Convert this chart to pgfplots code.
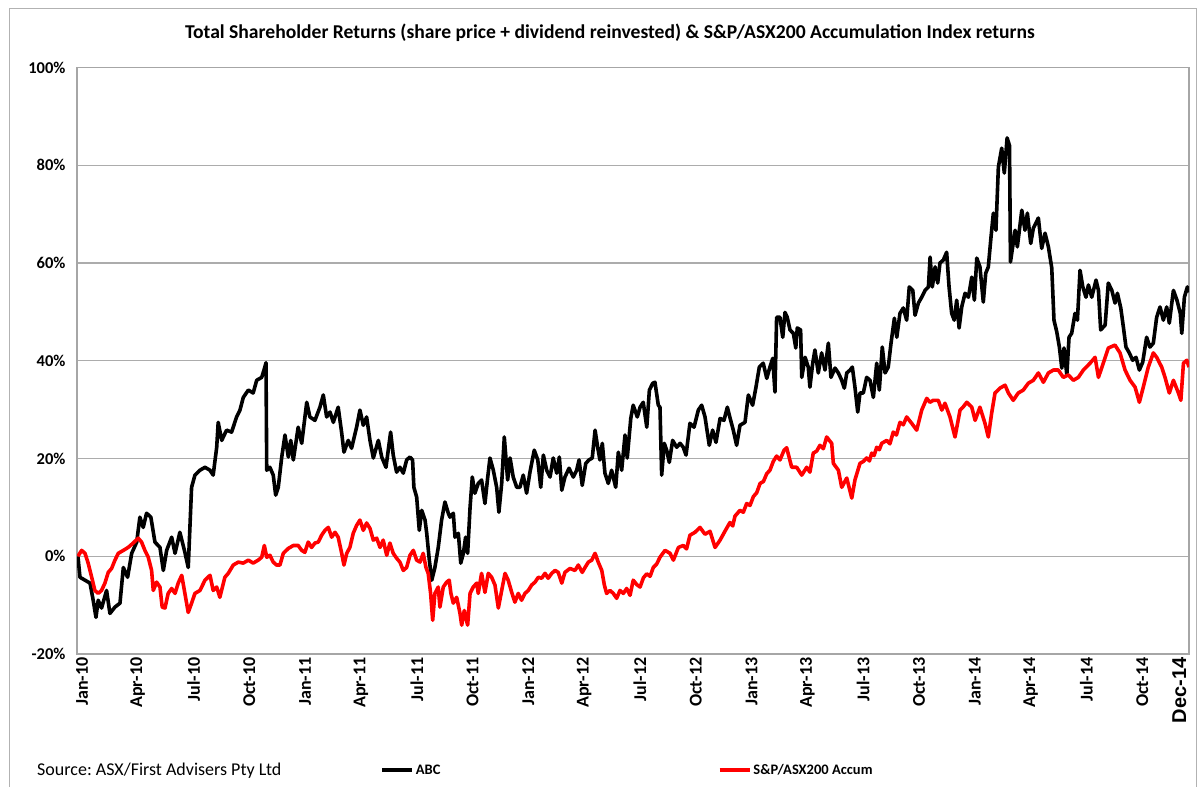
\documentclass[border=0pt]{standalone}
\usepackage{fontspec}
\setmainfont{Carlito}
\newfontfamily\arialfont{Liberation Sans}
\usepackage{pgfplots}
\pgfplotsset{compat=1.18}
\frenchspacing
\begin{document}
\begin{tikzpicture}[x=1pt,y=1pt]
\useasboundingbox (0,0) rectangle (1200,787);
\draw[gray!60, line width=1pt] (9,-2) -- (9,778) -- (1196,778) -- (1196,-2);
\node[font=\fontsize{19.6}{23}\selectfont\bfseries] at (610,754) {Total Shareholder Returns (share price + dividend reinvested) \& S\&P/ASX200 Accumulation Index returns};
\node[font=\fontsize{18}{21}\selectfont, anchor=west, inner sep=0pt] at (37,16) {Source: ASX/First Advisers Pty Ltd};
\begin{axis}[
  at={(77pt,133pt)}, anchor=south west,
  scale only axis, width=1112pt, height=586.5pt,
  xmin=-0.05, xmax=59.73, ymin=-20, ymax=100,
  xtick={0,3,6,9,12,15,18,21,24,27,30,33,36,39,42,45,48,51,54,57,59},
  xticklabels={Jan-10,Apr-10,Jul-10,Oct-10,Jan-11,Apr-11,Jul-11,Oct-11,Jan-12,Apr-12,Jul-12,Oct-12,Jan-13,Apr-13,Jul-13,Oct-13,Jan-14,Apr-14,Jul-14,Oct-14,{\arialfont\fontsize{20}{24}\selectfont\bfseries Dec-14}},
  xticklabel style={rotate=90, anchor=east, font=\fontsize{18}{21}\selectfont\bfseries, xshift=0pt, yshift=-4pt},
  ytick={-20,0,20,40,60,80,100},
  yticklabels={-20\%,0\%,20\%,40\%,60\%,80\%,100\%},
  yticklabel style={font=\fontsize{16.5}{19}\selectfont\bfseries, xshift=-8pt},
  major tick length=0pt,
  ymajorgrids, grid style={draw=gray!65, line width=1.2pt},
  axis line style={draw=gray!70, line width=1.2pt},
  legend columns=2,
  legend style={at={(axis description cs:0.2725,-0.198)}, anchor=west, draw=none, fill=none,
    font=\fontsize{14.5}{17}\selectfont\bfseries, inner sep=0pt,
    /tikz/every even column/.append style={column sep=0pt}},
  legend image code/.code={\draw[#1] (0pt,0pt) -- (30pt,0pt);},
]
\addplot[black, line width=3.6pt, line join=round] coordinates {
(0,0) (0.11,-4.3) (0.38,-4.9) (0.65,-5.5) (0.82,-9) (0.97,-12.5) (1.09,-9) (1.27,-10.6) (1.54,-7) (1.72,-11.7)
(1.99,-10.4) (2.26,-9.6) (2.44,-2.3) (2.67,-4.3) (2.89,0.6) (3.16,2.9) (3.33,8.0) (3.51,5.9) (3.69,8.8) (3.92,8)
(4.14,2.9) (4.41,1.8) (4.59,-2.9) (4.77,1.2) (5.04,3.9) (5.22,0.6) (5.48,4.9) (5.75,0.8) (5.93,-2.3) (6.11,14.1)
(6.29,16.6) (6.56,17.6) (6.83,18.2) (7.10,17.6) (7.27,16.6) (7.46,22.3) (7.54,27.4) (7.73,23.7) (7.99,25.8) (8.26,25.4)
(8.53,28.5) (8.71,29.9) (8.89,32.5) (9.16,34) (9.42,33.4) (9.61,36) (9.88,36.6) (10.05,38.7) (10.11,39.6) (10.15,17.6)
(10.32,18.2) (10.50,16.6) (10.63,12.5) (10.77,14.1) (10.95,20.1) (11.13,24.8) (11.31,20.3) (11.44,23.7) (11.58,19.7) (11.84,26.4)
(12.03,23.1) (12.30,31.5) (12.47,28.5) (12.74,27.8) (13.01,30.5) (13.19,33) (13.37,28.5) (13.55,29.5) (13.73,27.4) (13.99,30.5)
(14.18,25.2) (14.30,21.3) (14.53,23.7) (14.71,22.1) (14.98,26.4) (15.16,29.9) (15.34,26.8) (15.52,28.5) (15.70,23.7) (15.88,20.1)
(16.15,23.7) (16.33,20.3) (16.56,18.2) (16.81,25.4) (16.95,20.7) (17.13,17.2) (17.31,18.2) (17.49,17) (17.67,19.7) (17.85,20.3)
(17.99,19.7) (18.06,14.1) (18.21,12.1) (18.35,5.3) (18.48,9.4) (18.66,7.4) (18.75,4.7) (18.89,-0.8) (19.02,-4.9) (19.19,-2.3)
(19.37,1.8) (19.55,7.4) (19.73,11.1) (19.91,8.8) (20.0,8) (20.18,8.8) (20.27,3.9) (20.45,4.7) (20.58,-1.4) (20.72,0.6)
(20.84,3.9) (20.95,0.6) (21.08,10) (21.20,16.2) (21.34,12.9) (21.52,14.9) (21.70,15.6) (21.88,10.8) (22.03,16.2) (22.15,20.1)
(22.33,17.6) (22.51,14.1) (22.63,9) (22.78,14.9) (22.92,24.4) (23.10,15.6) (23.23,20.1) (23.40,16.2) (23.59,14.1) (23.76,14.1)
(23.94,16.6) (24.12,12.9) (24.30,17.2) (24.53,21.7) (24.72,19.7) (24.88,14.1) (25.02,20.7) (25.20,17.6) (25.38,16.2) (25.55,20.1)
(25.74,17) (25.88,20.3) (26.01,13.5) (26.18,16.2) (26.40,18) (26.63,16.2) (26.81,17.6) (26.94,19.7) (27.11,14.5) (27.30,19)
(27.47,19.7) (27.65,20.1) (27.80,25.8) (27.94,22.3) (28.06,19.7) (28.19,23.1) (28.33,17) (28.51,14.9) (28.69,17.6) (28.91,14.1)
(29.05,21.3) (29.23,17.6) (29.41,24.8) (29.53,20.1) (29.72,28.2) (29.85,30.9) (30.07,28.5) (30.22,30.5) (30.39,31.5) (30.58,26.4)
(30.72,34) (30.90,35.4) (31.02,35.6) (31.20,30.9) (31.29,30.5) (31.38,16.6) (31.52,23.1) (31.65,21.7) (31.79,19.2) (31.97,23.7)
(32.19,22.3) (32.37,23.1) (32.54,22.3) (32.69,20.7) (32.90,27.2) (33.12,26.4) (33.35,29.9) (33.53,30.9) (33.71,28.5) (33.94,22.7)
(34.12,25.8) (34.30,23.3) (34.52,28.2) (34.73,27.8) (34.91,30.5) (35.09,27.8) (35.23,25.8) (35.41,22.7) (35.59,26.8) (35.86,27.4)
(36.04,33) (36.27,30.9) (36.45,34.6) (36.63,38.7) (36.84,39.5) (37.03,36.4) (37.20,38.7) (37.35,40.5) (37.47,33.6) (37.56,48.9)
(37.74,48.9) (37.89,44.8) (38.01,49.9) (38.13,48.9) (38.28,46.3) (38.46,45.6) (38.59,42.6) (38.67,46.7) (38.85,46.3) (38.91,36.6)
(39.09,40.7) (39.26,38.7) (39.35,34.6) (39.50,39.5) (39.62,42.2) (39.80,37.5) (39.98,41.6) (40.16,38.1) (40.34,43.6) (40.48,36.6)
(40.70,38.5) (40.88,37.5) (41.06,36) (41.20,34.4) (41.33,37.5) (41.51,38.1) (41.63,38.7) (41.77,34.6) (41.92,29.5) (42.04,33.4)
(42.22,33.4) (42.40,36.6) (42.58,36) (42.76,32.5) (42.94,39.5) (43.08,34) (43.24,42.8) (43.39,37.5) (43.56,38.7) (43.71,43.6)
(43.89,48.7) (44.02,44.8) (44.19,49.7) (44.37,50.8) (44.55,48.3) (44.69,55.1) (44.88,54.4) (45.0,49.3) (45.18,51.8) (45.36,53)
(45.54,54.4) (45.72,55.1) (45.81,61.2) (45.93,55.1) (46.08,59.2) (46.22,55.9) (46.34,60) (46.52,60.6) (46.70,62.2) (46.83,55.1)
(46.97,49.7) (47.11,48.3) (47.24,52.4) (47.37,46.7) (47.51,51) (47.69,53.8) (47.87,53) (48.05,57.1) (48.19,52.4) (48.32,61)
(48.49,59.2) (48.67,52) (48.80,57.9) (48.94,59.2) (49.07,64.7) (49.21,70.2) (49.35,66.7) (49.48,79.6) (49.66,83.5) (49.80,78.4)
(49.95,85.6) (50.08,84) (50.13,60.2) (50.38,66.7) (50.50,63.3) (50.74,70.8) (50.91,66.7) (51.04,70.2) (51.22,64) (51.36,67.1)
(51.63,69.2) (51.81,63) (51.99,66.1) (52.17,63.3) (52.35,59) (52.47,48.3) (52.62,45.9) (52.76,42.8) (52.89,38.5) (53.01,42.6)
(53.16,37.1) (53.28,44.8) (53.42,45.6) (53.60,49.7) (53.73,48.3) (53.87,58.5) (54.02,55.1) (54.19,53) (54.32,55.5) (54.50,53)
(54.73,56.5) (54.86,54.4) (54.98,46.3) (55.22,47.3) (55.39,55.9) (55.58,54.4) (55.75,51.8) (55.88,53.8) (56.06,50.8) (56.20,46.9)
(56.34,42.8) (56.52,41.6) (56.70,40.1) (56.88,40.7) (57.06,38.1) (57.24,39.7) (57.45,44.8) (57.63,42.8) (57.81,43.6) (57.99,48.9)
(58.17,51) (58.35,48.3) (58.53,51) (58.67,47.7) (58.89,54.4) (59.08,52.4) (59.26,49.7) (59.34,45.6) (59.48,53) (59.64,55.1) (59.73,54)
};
\addlegendentry{\makebox[300pt][l]{ABC}}
\addplot[red, line width=3.6pt, line join=round] coordinates {
(0,0) (0.20,1.2) (0.38,0.6) (0.55,-1.4) (0.74,-4.3) (0.91,-7) (1.09,-7.6) (1.27,-7) (1.45,-5.5) (1.63,-3.3)
(1.81,-2.5) (1.99,-0.8) (2.17,0.6) (2.44,1.2) (2.70,1.8) (2.97,2.7) (3.24,3.7) (3.42,2.9) (3.60,1.2) (3.78,-0.2)
(3.96,-2.9) (4.05,-7) (4.23,-5.3) (4.41,-6.3) (4.53,-10.4) (4.68,-10.6) (4.85,-7.6) (5.04,-6.6) (5.22,-7.6) (5.39,-5.5)
(5.58,-3.9) (5.75,-7.6) (5.93,-11.5) (6.11,-9.6) (6.29,-7.6) (6.56,-7) (6.83,-4.9) (7.10,-3.9) (7.27,-7) (7.46,-6.3)
(7.63,-8.4) (7.90,-4.3) (8.08,-3.5) (8.35,-1.8) (8.62,-1.2) (8.89,-1.4) (9.16,-0.8) (9.42,-1.4) (9.69,-0.8) (9.88,-0.2)
(10.02,2.2) (10.15,-0.2) (10.32,0.2) (10.50,-1.2) (10.68,-1.8) (10.86,-1.8) (11.04,0.6) (11.31,1.6) (11.58,2.2) (11.84,2.2)
(12.03,1.2) (12.20,0.8) (12.38,2.9) (12.56,1.8) (12.74,2.7) (12.92,2.9) (13.10,4.3) (13.28,5.3) (13.46,5.9) (13.64,3.9)
(13.82,4.9) (13.99,3.9) (14.18,0.6) (14.30,-1.8) (14.45,0.6) (14.62,1.8) (14.80,4.7) (14.98,6.3) (15.16,7.4) (15.34,5.3)
(15.52,6.8) (15.70,5.7) (15.88,3.3) (16.06,3.7) (16.24,1.8) (16.41,3.3) (16.60,0.2) (16.77,2.7) (16.95,0.6) (17.13,-0.4)
(17.31,-1.2) (17.49,-2.9) (17.67,-2.3) (17.85,0.2) (18.03,1.2) (18.21,-0.8) (18.39,-1.2) (18.56,0.6) (18.71,-2.3) (18.83,-3.5)
(18.96,-7.6) (19.07,-13.1) (19.19,-7.6) (19.37,-6.3) (19.46,-10.4) (19.64,-6.3) (19.82,-5.3) (19.96,-4.9) (20.05,-7.6) (20.18,-9.6)
(20.36,-8.4) (20.54,-11.7) (20.63,-14.1) (20.77,-11.1) (20.95,-14.1) (21.08,-7.6) (21.25,-6.3) (21.44,-5.5) (21.52,-7.6) (21.70,-3.5)
(21.88,-7.4) (22.06,-3.5) (22.24,-4.3) (22.42,-5.9) (22.60,-10.6) (22.78,-7) (22.96,-3.5) (23.13,-4.9) (23.32,-7.4) (23.49,-9.4)
(23.67,-7.6) (23.85,-9) (24.03,-7.6) (24.21,-7) (24.39,-5.9) (24.57,-5.3) (24.75,-4.3) (24.93,-4.5) (25.11,-3.5) (25.28,-4.5)
(25.47,-3.5) (25.65,-2.9) (25.82,-3.3) (26.01,-5.5) (26.18,-3.3) (26.45,-2.5) (26.72,-2.9) (26.90,-1.8) (27.11,-3.3) (27.26,-2.3)
(27.44,-1.2) (27.62,-0.8) (27.80,0.6) (27.97,-1.2) (28.16,-2.9) (28.30,-5.9) (28.42,-7.6) (28.60,-7) (28.78,-7.6) (28.96,-8.6)
(29.14,-7) (29.32,-7.6) (29.50,-6.6) (29.68,-8) (29.85,-4.9) (30.04,-5.8) (30.22,-6.3) (30.40,-4.4) (30.58,-3.6) (30.76,-4.1) (30.93,-2.3) (31.11,-1.6) (31.29,-0.2) (31.56,1.2)
(31.83,0.6) (32.01,-0.8) (32.28,1.8) (32.54,2.2) (32.72,1.5) (32.90,4.3) (33.17,4.9) (33.44,5.9) (33.71,4.5) (33.98,5.1) (34.25,1.8)
(34.52,3.3) (34.78,5.1) (35.05,6.9) (35.20,6.2) (35.32,8.2) (35.59,9.4) (35.77,9.0) (35.95,10.8) (36.13,10.4) (36.31,12.2) (36.49,13.0) (36.67,14.9) (36.85,15.3) (37.03,16.9) (37.20,17.6) (37.38,19.4)
(37.56,20.5) (37.74,19.7) (37.96,21.7) (38.10,22.2) (38.37,18.2) (38.64,18.2) (38.91,16.6) (39.18,18.2) (39.35,17.2) (39.53,21.1)
(39.71,21.5) (39.89,22.7) (40.07,22.0) (40.25,24.4) (40.52,23.1) (40.61,19) (40.88,17.6) (41.06,14.1) (41.33,16) (41.60,11.9) (41.77,15.6) (42.04,19)
(42.22,19.4) (42.40,20.1) (42.55,19.5) (42.67,21.1) (42.80,20.6) (42.94,22.3) (43.08,21.8) (43.21,23.1) (43.48,23.7) (43.65,23.0) (43.83,25.4) (44.00,24.8) (44.19,27.4) (44.37,26.9) (44.55,28.5) (44.82,27.2) (45.09,25.8)
(45.36,29.9) (45.63,32.3) (45.80,31.5) (45.98,31.9) (46.25,31.9) (46.44,29.9) (46.61,31.3) (46.88,28.5) (47.15,24.4) (47.42,29.9) (47.60,30.6) (47.78,31.5)
(48.05,30.5) (48.23,27.8) (48.49,30.5) (48.76,27.2) (48.94,24.4) (49.12,29.3) (49.30,33.4) (49.57,34.4) (49.84,35) (50.02,33.4)
(50.28,31.9) (50.55,33.4) (50.82,34) (51.09,35.4) (51.36,36) (51.63,37.5) (51.90,35.6) (52.17,37.5) (52.44,38.1) (52.70,38.1)
(52.97,36.6) (53.24,37.1) (53.51,36) (53.78,36.6) (54.05,38.1) (54.41,39.5) (54.68,40.7) (54.86,36.6) (55.12,39.5) (55.39,42.6)
(55.75,43.2) (56.02,41.6) (56.29,38.1) (56.56,36) (56.83,34.6) (57.06,31.5) (57.27,34.6) (57.54,38.7) (57.81,41.6) (57.99,40.7)
(58.26,38.7) (58.44,36.6) (58.67,33.4) (58.89,36) (59.16,33.4) (59.29,31.9) (59.43,39.5) (59.61,40.1) (59.73,38.7)
};
\addlegendentry{S\&P/ASX200 Accum}
\end{axis}
\end{tikzpicture}
\end{document}
